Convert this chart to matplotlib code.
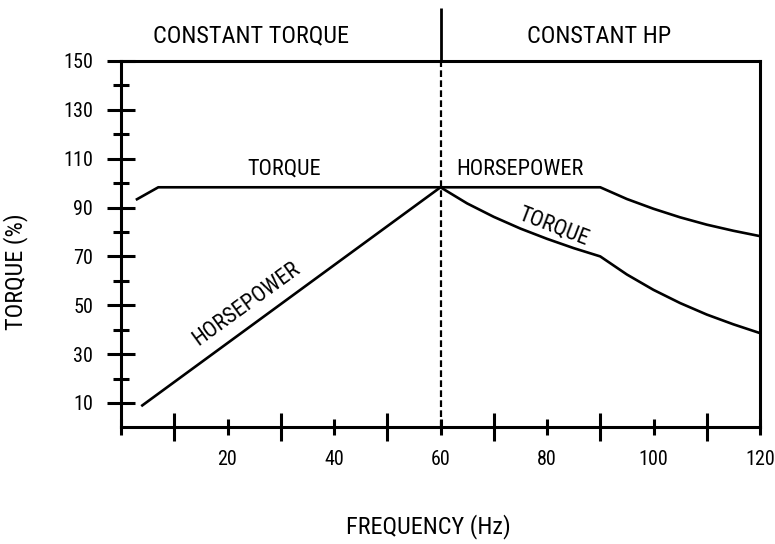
import matplotlib
matplotlib.use("Agg")
import matplotlib.pyplot as plt
from matplotlib import font_manager
from matplotlib.font_manager import FontProperties
from matplotlib.ticker import FixedLocator

# ---- data ----
torque_freq = [3, 7, 60, 65, 70, 75, 80, 85, 90, 95, 100, 105, 110, 115, 120]
torque_vals = [93.4, 98.3, 98.3, 91.7, 86.2, 81.4, 77.2, 73.4, 70.0, 62.6, 56.3, 50.9, 46.2, 42.2, 38.6]
hp_freq = [4, 60, 90, 95, 100, 105, 110, 115, 120]
hp_vals = [9.0, 98.3, 98.3, 93.5, 89.5, 86.0, 83.0, 80.5, 78.3]
base_freq = 60
x_labeled_ticks = [0, 20, 40, 60, 80, 100, 120]
x_tick_labels = ["", "20", "40", "60", "80", "100", "120"]
x_long_ticks = [10, 30, 50, 70, 90, 110]
y_labeled_ticks = [10, 30, 50, 70, 90, 110, 130, 150]
y_short_ticks = [20, 40, 60, 80, 100, 120, 140]

# ---- font choice: a condensed sans if one is installed ----
def _weight_ok(w):
    return w in (400, "normal", "regular", "book")

cond = []
for f in font_manager.fontManager.ttflist:
    n = f.name
    if any(b in n for b in ("Mono", "Serif", "CJK", "Math")):
        continue
    if ("Narrow" in n or "Condensed" in n or f.stretch in ("condensed", "semi-condensed")) \
            and f.style == "normal" and _weight_ok(f.weight) and "Semi" not in n \
            and "Extra" not in n:
        cond.append(f)
pref = ["Liberation Sans Narrow", "Roboto Condensed", "Open Sans Condensed",
        "Noto Sans Condensed", "DejaVu Sans Condensed"]
cond.sort(key=lambda f: pref.index(f.name) if f.name in pref else 99)
if cond:
    FONT_FILE = cond[0].fname
    SCALE = 1.0
else:
    FONT_FILE = font_manager.findfont(FontProperties(family="Liberation Sans"))
    SCALE = 0.86

def fp(size):
    return FontProperties(fname=FONT_FILE, size=size * SCALE)

plt.rcParams["lines.scale_dashes"] = False

fig = plt.figure(figsize=(7.75, 5.44), dpi=100)
ax = fig.add_axes([121/775, 1-427.4/544, (760-121)/775, (427.4-61)/544])
ax.set_xlim(0, 120)
ax.set_ylim(0, 150)

lw_curve = 1.9
ax.plot(torque_freq, torque_vals, color="black", lw=lw_curve, solid_joinstyle="round")
ax.plot(hp_freq, hp_vals, color="black", lw=lw_curve, solid_joinstyle="round")

# divider at base frequency
ax.plot([base_freq, base_freq], [0, 150], color="black", lw=1.6,
        dashes=(4.8, 2.4))
ax.plot([base_freq, base_freq], [150, 171.8], color="black", lw=2.0,
        clip_on=False, solid_capstyle="butt")

for s in ax.spines.values():
    s.set_linewidth(2.2)

ax.xaxis.set_major_locator(FixedLocator(x_labeled_ticks))
ax.set_xticklabels(x_tick_labels)
ax.xaxis.set_minor_locator(FixedLocator(x_long_ticks))
ax.yaxis.set_major_locator(FixedLocator(y_labeled_ticks))
ax.yaxis.set_minor_locator(FixedLocator(y_short_ticks))

ax.tick_params(axis="x", which="major", direction="inout", length=12.2, width=2.2, pad=10)
ax.tick_params(axis="x", which="minor", direction="inout", length=20, width=2.2)
ax.tick_params(axis="y", which="major", direction="inout", length=20, width=2.2, pad=10)
ax.tick_params(axis="y", which="minor", direction="inout", length=12.2, width=2.2)
for lab in ax.get_xticklabels() + ax.get_yticklabels():
    lab.set_fontproperties(fp(14.5))

tk = dict(color="black", ha="center", va="center")
ax.text(24.5, 160.2, "CONSTANT TORQUE", fontproperties=fp(17.5), clip_on=False, **tk)
ax.text(89.7, 160.2, "CONSTANT HP", fontproperties=fp(17.5), clip_on=False, **tk)
ax.text(30.7, 105.6, "TORQUE", fontproperties=fp(16), **tk)
ax.text(75.0, 105.6, "HORSEPOWER", fontproperties=fp(16), **tk)
ax.text(81.2, 82.0, "TORQUE", fontproperties=fp(16), rotation=-21, rotation_mode="anchor", **tk)
ax.text(23.5, 50.5, "HORSEPOWER", fontproperties=fp(16), rotation=36, rotation_mode="anchor", **tk)

fig.text(16/775, 1-272/544, "TORQUE (%)", rotation=90, fontproperties=fp(17.5), **tk)
fig.text(428/775, 1-527/544, "FREQUENCY (Hz)", fontproperties=fp(17.5), **tk)

fig.savefig("out.png", dpi=100)
